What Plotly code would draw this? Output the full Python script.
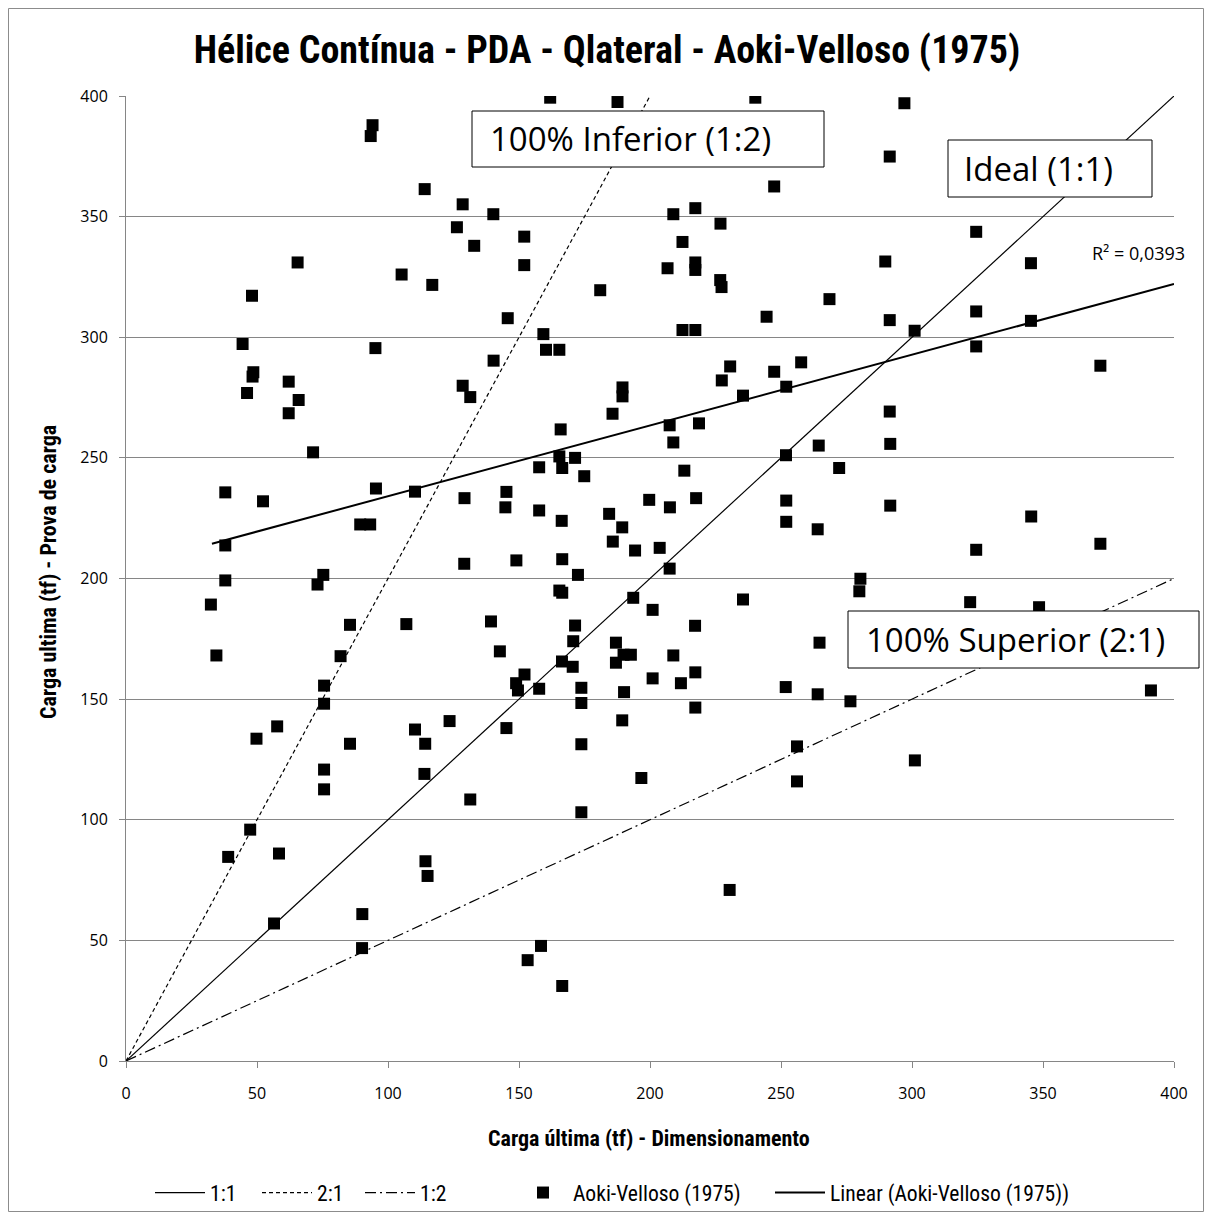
import plotly.graph_objects as go

# ---------------- data ----------------
x_dim = [94.1, 93.4, 114.0, 128.5, 126.3, 132.9, 65.5, 105.2, 116.9, 48.1,
         44.5, 95.2, 48.6, 48.3, 46.2, 62.1, 65.9, 62.1, 128.5, 131.4,
         161.9, 187.6, 240.2, 247.4, 140.2, 208.9, 217.3, 226.9, 152.0, 212.4,
         152.0, 206.7, 217.3, 217.3, 226.8, 227.3, 181.0, 244.5, 145.7, 212.4,
         217.3, 159.3, 160.3, 165.4, 140.3, 230.6, 257.7, 247.4, 227.4, 252.0,
         235.5, 189.5, 189.5, 185.7,
         165.9, 207.5, 218.7, 208.9, 165.4, 171.4, 157.7, 166.5, 174.9, 213.1,
         251.9, 264.4, 129.2, 145.2, 144.8, 157.7, 166.3, 199.7, 207.6, 217.6,
         252.0, 252.0, 264.0, 184.4, 189.4, 185.8, 194.3, 203.7, 207.5, 129.1,
         149.0, 166.5, 172.5, 165.4, 166.5, 193.6, 201.0, 235.5, 139.3, 171.4,
         217.2, 170.7, 187.0, 142.7, 189.9, 192.7, 208.9, 166.4, 170.5, 187.0,
         152.1, 148.9, 149.6, 157.7, 173.8, 190.1, 201.0, 211.8, 217.3, 251.8,
         264.0, 264.7, 173.8, 217.3, 145.2, 189.4, 173.8, 256.1,
         297.1, 291.5, 324.5, 289.8, 345.4, 268.5, 291.5, 324.5, 345.4, 301.0,
         324.5, 371.9, 291.5,
         291.7, 272.2, 291.7, 345.5, 324.5, 371.9, 280.3, 279.9, 322.2, 348.5,
         276.5, 391.2,
         71.4, 37.9, 52.3, 95.4, 110.3, 89.4, 93.2, 37.9, 37.9, 32.4,
         75.3, 73.1, 85.5, 107.0, 34.5, 81.9, 75.6, 75.6, 123.5, 110.3,
         57.7, 49.8, 85.5, 114.2,
         75.6, 75.6, 113.9, 131.4, 47.4, 39.0, 58.4, 114.3, 115.1, 56.5,
         90.2, 90.1,
         196.7, 173.8, 256.1, 230.4, 158.4, 153.3, 166.5,
         301.1]

y_prova = [387.9, 383.4, 361.4, 355.1, 345.6, 337.9, 331.0, 326.0, 321.7, 317.2,
           297.2, 295.5, 285.5, 283.7, 276.9, 281.6, 274.0, 268.5, 279.9, 275.2,
           399.3, 397.5, 399.3, 362.5, 351.0, 351.0, 353.5, 347.1, 341.7, 339.5,
           329.9, 328.6, 331.0, 327.9, 323.7, 320.8, 319.5, 308.5, 307.9, 303.0,
           303.0, 301.3, 294.8, 294.8, 290.3, 287.9, 289.6, 285.7, 282.1, 279.5,
           275.8, 279.2, 275.5, 268.3,
           261.8, 263.5, 264.3, 256.4, 250.6, 250.0, 246.1, 245.8, 242.4, 244.7,
           251.1, 255.1, 233.3, 235.9, 229.5, 228.2, 223.9, 232.6, 229.5, 233.3,
           232.3, 223.5, 220.4, 226.8, 221.2, 215.3, 211.6, 212.7, 204.1, 206.1,
           207.5, 208.0, 201.5, 195.0, 194.1, 192.0, 187.0, 191.3, 182.2, 180.5,
           180.4, 174.0, 173.4, 169.8, 168.4, 168.4, 168.1, 165.6, 163.4, 165.1,
           160.2, 156.6, 153.6, 154.3, 154.7, 152.9, 158.6, 156.6, 161.1, 155.0,
           152.0, 173.4, 148.4, 146.5, 138.0, 141.2, 131.3, 130.4,
           397.0, 374.9, 343.7, 331.4, 330.7, 315.8, 307.1, 310.7, 306.8, 302.7,
           296.2, 288.2, 269.2,
           255.8, 245.8, 230.2, 225.7, 211.9, 214.4, 199.9, 194.7, 190.2, 188.1,
           149.1, 153.6,
           252.3, 235.7, 232.0, 237.3, 236.0, 222.4, 222.4, 213.7, 199.2, 189.2,
           201.5, 197.5, 180.8, 181.1, 168.1, 167.8, 155.6, 148.1, 140.9, 137.4,
           138.7, 133.6, 131.5, 131.5,
           120.8, 112.6, 119.0, 108.4, 95.9, 84.6, 86.0, 82.8, 76.7, 57.0,
           60.9, 46.8,
           117.3, 103.1, 115.9, 70.9, 47.7, 41.8, 31.1,
           124.6]

# reference lines (1:1, 2:1, 1:2)
ref_11_x = [0, 400]
ref_11_y = [0, 400]
ref_21_x = [0, 200]
ref_21_y = [0, 400]
ref_12_x = [0, 400]
ref_12_y = [0, 200]

# Excel linear trendline as drawn in the chart (end points)
trend_x = [32.8, 400]
trend_y = [214.4, 322.1]
r2_label = "R² = 0,0393"

title_text = "Hélice Contínua - PDA - Qlateral - Aoki-Velloso (1975)"
x_title = "Carga última (tf) - Dimensionamento"
y_title = "Carga ultima (tf) - Prova de carga"
box_labels = ["100% Inferior (1:2)", "Ideal (1:1)", "100% Superior (2:1)"]
series_names = ["1:1", "2:1", "1:2", "Aoki-Velloso (1975)", "Linear (Aoki-Velloso (1975))"]
tick_vals = [0, 50, 100, 150, 200, 250, 300, 350, 400]

# ---------------- layout helpers ----------------
OFF = 8                      # page body margin
W, H = 1196, 1204
L, T = 118, 88
PW, PH = 1048, 965
R, B = W - L - PW, H - T - PH
WL, WB = L + OFF, T + OFF + PH   # plot-area left / bottom in window pixels


def px(xp):
    return (xp - WL) / PW


def py(yp):
    return (WB - yp) / PH


NARROW = "Liberation Sans Narrow, Roboto Condensed, Arial Narrow, Open Sans, sans-serif"
REG = "Open Sans, sans-serif"

fig = go.Figure()

fig.add_trace(go.Scatter(x=ref_11_x, y=ref_11_y, mode="lines", name=series_names[0],
                         legend="legend",
                         line=dict(color="black", width=1.2)))
fig.add_trace(go.Scatter(x=ref_21_x, y=ref_21_y, mode="lines", name=series_names[1],
                         legend="legend2",
                         line=dict(color="black", width=1.2, dash="4px,3px")))
fig.add_trace(go.Scatter(x=ref_12_x, y=ref_12_y, mode="lines", name=series_names[2],
                         legend="legend3",
                         line=dict(color="black", width=1.2, dash="11px,4px,2px,4px")))
fig.add_trace(go.Scatter(x=x_dim, y=y_prova, mode="markers", name=series_names[3],
                         legend="legend4",
                         marker=dict(symbol="square", color="black", size=12,
                                     line=dict(width=0))))
fig.add_trace(go.Scatter(x=trend_x, y=trend_y, mode="lines", name=series_names[4],
                         legend="legend5",
                         line=dict(color="black", width=2)))

shapes = []
annotations = []

boxes = [
    (472, 111, 824, 167, 488, 139, box_labels[0]),
    (948, 140, 1152, 197, 962, 168.5, box_labels[1]),
    (848, 611, 1199, 668, 864, 639.5, box_labels[2]),
]
for x0, y0, x1, y1, tx0, tyc, txt in boxes:
    shapes.append(dict(type="rect", xref="paper", yref="paper",
                       x0=px(x0), x1=px(x1), y0=py(y1), y1=py(y0),
                       fillcolor="white", line=dict(color="black", width=1),
                       layer="above"))
    annotations.append(dict(xref="paper", yref="paper", x=px(tx0), y=py(tyc),
                            xanchor="left", yanchor="middle", showarrow=False,
                            text=txt, font=dict(family=REG, size=33, color="black")))

annotations.append(dict(xref="paper", yref="paper", x=px(1187), y=py(253),
                        xanchor="right", yanchor="middle", showarrow=False,
                        text=r2_label, font=dict(family=REG, size=18, color="black")))

annotations.append(dict(xref="paper", yref="paper", x=px(649), y=py(1138),
                        xanchor="center", yanchor="middle", showarrow=False,
                        text="<b>" + x_title + "</b>",
                        font=dict(family=NARROW, size=22, color="black")))
annotations.append(dict(xref="paper", yref="paper", x=px(48), y=py(572),
                        xanchor="center", yanchor="middle", showarrow=False,
                        textangle=-90, text="<b>" + y_title + "</b>",
                        font=dict(family=NARROW, size=22, color="black")))

# outer chart border (figure edge)
shapes.append(dict(type="rect", xref="paper", yref="paper",
                   x0=px(OFF + 0.5), x1=px(OFF + W - 0.5),
                   y0=py(OFF + H - 0.5), y1=py(OFF + 0.5),
                   line=dict(color="#8c8c8c", width=1), fillcolor="rgba(0,0,0,0)",
                   layer="below"))

# one legend box per series, placed like the original legend row
legend_origin = [150, 257, 360, 513, 770]
LEG_Y = 1193


def leg(xo):
    return dict(orientation="h", x=px(xo), xanchor="left", y=py(LEG_Y), yanchor="middle",
                font=dict(family=NARROW, size=21.6, color="black"),
                bgcolor="rgba(0,0,0,0)", itemwidth=50, borderwidth=0)


fig.update_layout(
    width=W, height=H,
    margin=dict(l=L, r=R, t=T, b=B, pad=0, autoexpand=False),
    paper_bgcolor="white", plot_bgcolor="white",
    title=dict(text="<b>" + title_text + "</b>", x=(607 - OFF) / W, xanchor="center",
               y=1 - (50 - OFF) / H, yanchor="middle",
               font=dict(family=NARROW, size=38, color="black")),
    showlegend=True,
    legend=leg(legend_origin[0]),
    legend2=leg(legend_origin[1]),
    legend3=leg(legend_origin[2]),
    legend4=leg(legend_origin[3]),
    legend5=leg(legend_origin[4]),
    shapes=shapes,
    annotations=annotations,
)

fig.update_xaxes(range=[0, 400], tickvals=tick_vals, showgrid=False, zeroline=False,
                 showline=True, linecolor="#868686", linewidth=1,
                 ticks="outside", ticklen=6, tickcolor="#868686",
                 ticklabelstandoff=12,
                 tickfont=dict(family=REG, size=16, color="black"))
fig.update_yaxes(range=[0, 400], tickvals=tick_vals, showgrid=True, gridcolor="#868686",
                 gridwidth=1, zeroline=False,
                 showline=True, linecolor="#868686", linewidth=1,
                 ticks="outside", ticklen=6, tickcolor="#868686",
                 ticklabelstandoff=8,
                 tickfont=dict(family=REG, size=16, color="black"))

fig.write_html("out.html")
